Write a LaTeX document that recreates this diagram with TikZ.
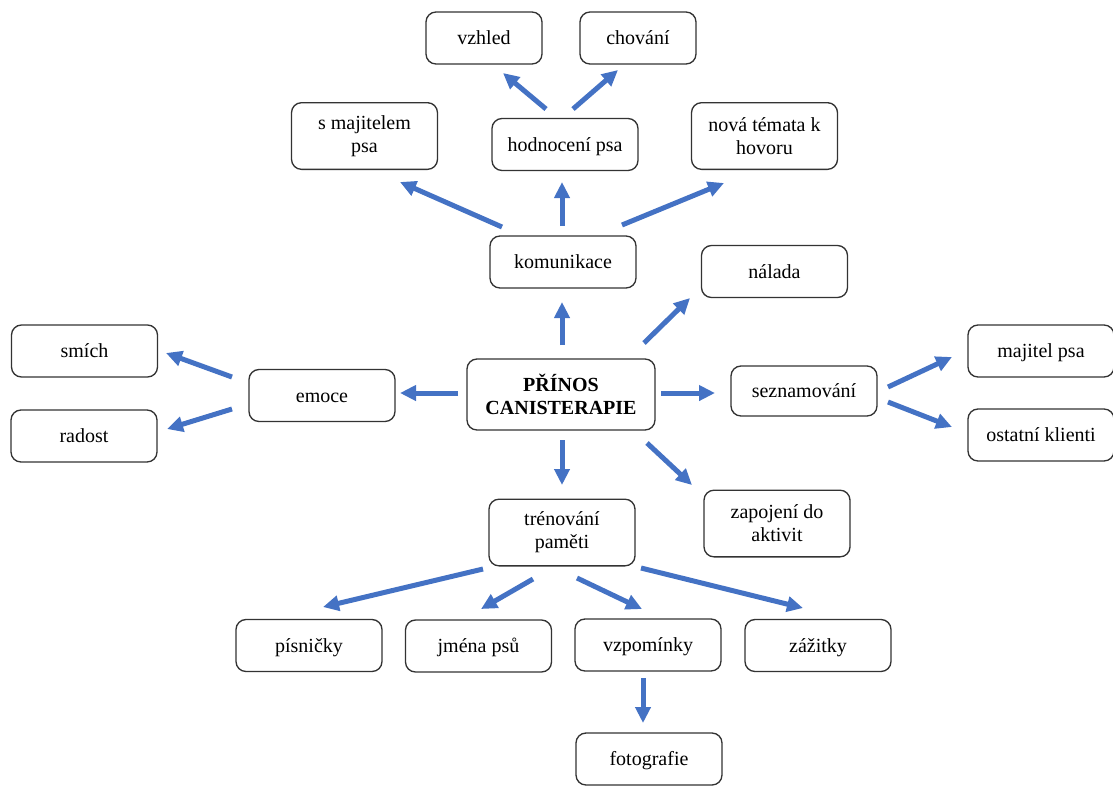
\documentclass[tikz,border=0pt]{standalone}
\usepackage{fontspec}
\setmainfont{Liberation Serif}
\usepackage{xcolor}
\usepackage{tikz}
\usetikzlibrary{arrows.meta}
\definecolor{arrowblue}{HTML}{4472C4}
\begin{document}
\begin{tikzpicture}[x=0.6pt, y=-0.6pt,
    box/.style={draw=black!80, line width=0.8pt, rounded corners=6pt, align=center, inner sep=2pt,
        minimum width=87.6pt, minimum height=31.2pt, text height=0.9em, text depth=0.1em,
        font=\fontsize{12}{13.8}\selectfont},
    tallbox/.style={box, minimum height=40pt, text height=, text depth=},
    arrow/.style={draw=arrowblue, line width=3pt, -{Triangle[length=9.6pt, width=9pt]}}]
    \useasboundingbox (0,0) rectangle (1113,785);
    \node[box, minimum width=69.6pt] (vzh) at (484,38) {vzhled};
    \node[box, minimum width=69.6pt] (cho) at (638,38) {chování};
    \node[tallbox] (smaj) at (364.5,136) {s majitelem\\psa};
    \node[box] (hod) at (565,144.5) {hodnocení psa};
    \node[tallbox] (nova) at (764.5,136) {nová témata k\\hovoru};
    \node[box] (kom) at (563,262) {komunikace};
    \node[box] (nal) at (774.5,271.5) {nálada};
    \node[box] (smi) at (84.5,351) {smích};
    \node[box] (emo) at (322,395.5) {emoce};
    \node[tallbox, minimum width=112.8pt, minimum height=42.6pt, font=\fontsize{12}{13.8}\selectfont\bfseries] (pri) at (561,394.5) {PŘÍNOS\\CANISTERAPIE};
    \node[box, minimum height=30pt] (sez) at (804,391) {seznamování};
    \node[box] (maj) at (1041,351) {majitel psa};
    \node[box] (rad) at (84,436) {radost};
    \node[box] (ost) at (1041,435) {ostatní klienti};
    \node[tallbox] (zap) at (777,523.5) {zapojení do\\aktivit};
    \node[tallbox] (tre) at (562,532.5) {trénování\\paměti};
    \node[box] (pis) at (309,645.5) {písničky};
    \node[box] (jme) at (478.5,646) {jména psů};
    \node[box] (vzp) at (648,645) {vzpomínky};
    \node[box] (zaz) at (818,645.5) {zážitky};
    \node[box] (fot) at (649,759) {fotografie};
    % hodnoceni psa
    \draw[arrow] ([shift={(-19,-35.5)}]hod.center) -- ([shift={(19,35)}]vzh.center);
    \draw[arrow] ([shift={(8,-35.5)}]hod.center) -- ([shift={(-20,32)}]cho.center);
    % komunikace
    \draw[arrow] ([shift={(-61,-35)}]kom.center) -- ([shift={(35.5,46)}]smaj.center);
    \draw[arrow] ([shift={(-1,-36)}]kom.center) -- ([shift={(-3,37.5)}]hod.center);
    \draw[arrow] ([shift={(59,-37)}]kom.center) -- ([shift={(-40.5,47)}]nova.center);
    % stred
    \draw[arrow] ([shift={(1,-49.5)}]pri.center) -- ([shift={(-1,40)}]kom.center);
    \draw[arrow] ([shift={(83,-51.5)}]pri.center) -- ([shift={(-84.5,26.5)}]nal.center);
    \draw[arrow] ([shift={(-103,-1.5)}]pri.center) -- ([shift={(78,-2.5)}]emo.center);
    \draw[arrow] ([shift={(100,-1.5)}]pri.center) -- ([shift={(-89,2)}]sez.center);
    \draw[arrow] ([shift={(1,45.5)}]pri.center) -- ([shift={(0,-47.5)}]tre.center);
    \draw[arrow] ([shift={(86,48.5)}]pri.center) -- ([shift={(-85,-38.5)}]zap.center);
    % emoce, seznamovani
    \draw[arrow] ([shift={(-90,-18.5)}]emo.center) -- ([shift={(81.5,2)}]smi.center);
    \draw[arrow] ([shift={(-90,13.5)}]emo.center) -- ([shift={(83,-7)}]rad.center);
    \draw[arrow] ([shift={(84,-4)}]sez.center) -- ([shift={(-89,6)}]maj.center);
    \draw[arrow] ([shift={(84,11)}]sez.center) -- ([shift={(-89,-8)}]ost.center);
    % treninky pameti
    \draw[arrow] ([shift={(-79,36.5)}]tre.center) -- ([shift={(14,-38.5)}]pis.center);
    \draw[arrow] ([shift={(-29,46.5)}]tre.center) -- ([shift={(2.5,-37)}]jme.center);
    \draw[arrow] ([shift={(15,45.5)}]tre.center) -- ([shift={(-6,-36)}]vzp.center);
    \draw[arrow] ([shift={(79,35.5)}]tre.center) -- ([shift={(-15,-37.5)}]zaz.center);
    \draw[arrow] ([shift={(-5,33)}]vzp.center) -- ([shift={(-6,-36)}]fot.center);
\end{tikzpicture}
\end{document}
